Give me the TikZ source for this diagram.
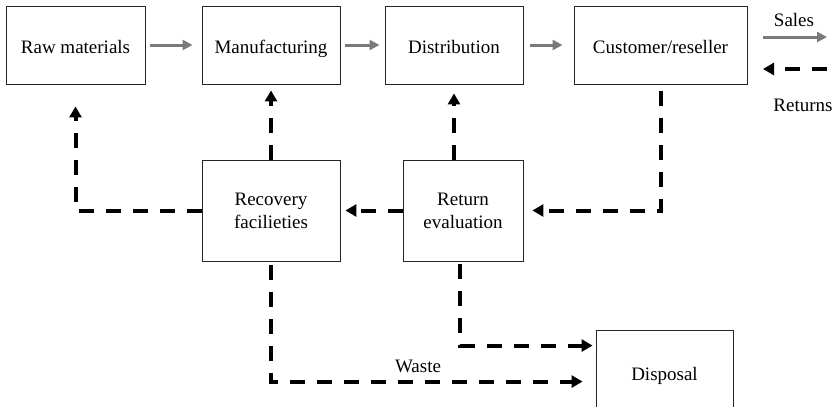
\documentclass[tikz,border=0pt]{standalone}
\usepackage{fontspec}
\setmainfont{Liberation Serif}
\usetikzlibrary{arrows.meta}
\begin{document}
\begin{tikzpicture}[x=1pt,y=-1pt,
  box/.style={draw=black!85,line width=0.9pt,fill=white,inner sep=0pt,align=center,
    font=\fontsize{19}{23}\selectfont},
  oneline/.style={text height=16pt,text depth=0pt},
  lbl/.style={font=\fontsize{19}{23}\selectfont,inner sep=0pt},
  grayarr/.style={draw=black!52,line width=3pt,-{Triangle[width=10pt,length=10pt]}},
  dasharr/.style={draw=black,line width=4pt,dash pattern=on 15pt off 12pt,
    -{Triangle[width=12pt,length=11pt]}}]
\useasboundingbox (0,0) rectangle (836,407);
\clip (0,0) rectangle (836,407);
% nodes
\node[box,oneline,minimum width=139pt,minimum height=78pt] (raw) at (75.5,45) {Raw materials};
\node[box,oneline,minimum width=138pt,minimum height=78pt] (man) at (271,45) {Manufacturing};
\node[box,oneline,minimum width=138pt,minimum height=78pt] (dist) at (454,45) {Distribution};
\node[box,oneline,minimum width=173pt,minimum height=78pt] (cust) at (660.5,45) {Customer/reseller};
\node[box,minimum width=138pt,minimum height=101pt] (rec) at (271,210.5) {Recovery\\facilieties};
\node[box,minimum width=120pt,minimum height=101pt] (ret) at (463,210.5) {Return\\evaluation};
\node[box,oneline,minimum width=137pt,minimum height=84pt] (disp) at (664.5,372) {Disposal};
% legend
\coordinate (s1) at (763,37);
\coordinate (s2) at (827,37);
\coordinate (r1) at (827,69);
\coordinate (r2) at (763,69);
\node[lbl] (sales) at (794,20) {Sales};
\node[lbl] (returns) at (803,105) {Returns};
\draw[grayarr] (s1) -- (s2);
\draw[dasharr] (r1) -- (r2);
% forward flow
\draw[grayarr] ([xshift=5pt]raw.east) -- ([xshift=-9pt]man.west);
\draw[grayarr] ([xshift=5pt]man.east) -- ([xshift=-5pt]dist.west);
\draw[grayarr] ([xshift=7pt]dist.east) -- ([xshift=-11pt]cust.west);
% reverse flow
\draw[dasharr] (rec.west) -| ([yshift=-22pt]raw.south);
\draw[dasharr] (rec.north) -- ([yshift=-6pt]man.south);
\draw[dasharr] (ret.north -| dist.south) -- ([yshift=-9pt]dist.south);
\draw[dasharr] ([yshift=-7pt]cust.south) |- ([xshift=9pt]ret.east);
\draw[dasharr] (ret.west) -- ([xshift=5pt]rec.east);
\coordinate (d1) at ([xshift=-3pt,yshift=-16pt]disp.north west);
\coordinate (d2) at ([xshift=-13pt,yshift=-52pt]disp.north west);
\draw[dasharr] ([xshift=-3pt,yshift=-3pt]ret.south) |- (d1);
\draw[dasharr] ([yshift=-4pt]rec.south) |- (d2);
\node[lbl] (waste) at (418,366) {Waste};
\end{tikzpicture}
\end{document}
